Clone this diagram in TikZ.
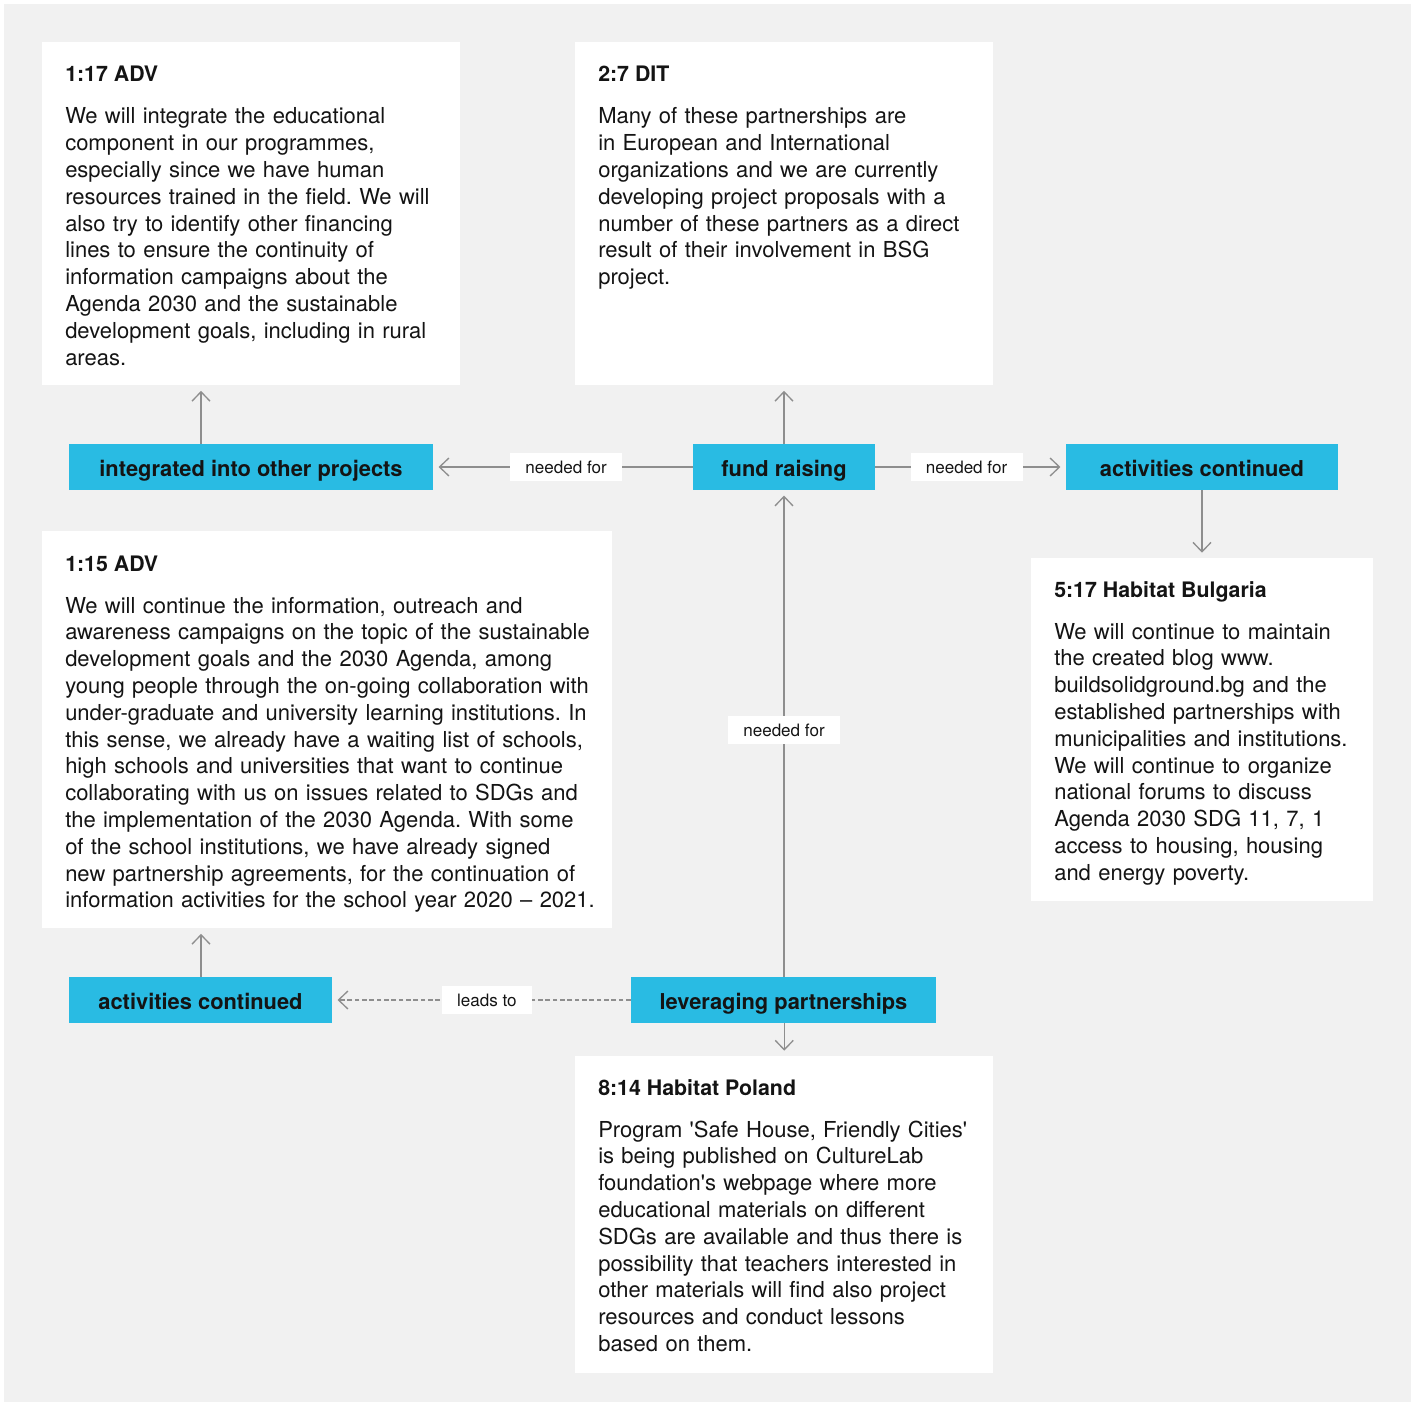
\documentclass[tikz,border=0pt]{standalone}
\usepackage{fontspec}
\setmainfont{TeX Gyre Heros}[Ligatures=TeXOff]
\usetikzlibrary{arrows.meta}
\definecolor{bggray}{HTML}{F1F1F1}
\definecolor{tagblue}{HTML}{29BBE3}
\definecolor{ink}{HTML}{141414}
\definecolor{linegray}{HTML}{8E8E8E}
\frenchspacing
\tikzset{
  card/.style={fill=white, draw=none, inner sep=0pt, anchor=north west},
  tag/.style={fill=tagblue, text=ink, font=\fontsize{16.4}{18}\selectfont\bfseries, minimum height=34.5pt, inner sep=0pt, anchor=center, text height=14.6pt, text depth=0pt},
  ttl/.style={anchor=base west, inner sep=0pt, text=ink, font=\fontsize{16}{18}\selectfont\bfseries},
  body/.style={anchor=base west, inner sep=0pt, text=ink, align=left, text width=480pt, font=\fontsize{16.5}{20.1}\selectfont},
  lbl/.style={fill=white, text=ink, font=\fontsize{12.8}{14}\selectfont, minimum width=84pt, minimum height=21pt, inner sep=0pt},
  arr/.style={draw=linegray, line width=1pt, -{Straight Barb[length=7pt,width=13.5pt]}, shorten >=4pt}
}
\begin{document}
\begin{tikzpicture}[x=0.75pt,y=-0.75pt]
\useasboundingbox (0,0) rectangle (1415,1402);
\fill[white] (0,0) rectangle (1415,1402);
\fill[bggray] (4,4) rectangle (1411,1402);

% cards
\node[card, minimum width=313.5pt, minimum height=257.25pt] (adv117) at (42,42) {};
\node[card, minimum width=313.5pt, minimum height=257.25pt] (dit) at (575,42) {};
\node[card, minimum width=427.5pt, minimum height=297.75pt] (adv115) at (42,531) {};
\node[card, minimum width=256.5pt, minimum height=257.25pt] (bg) at (1031,558) {};
\node[card, minimum width=313.5pt, minimum height=237.75pt] (pl) at (575,1056) {};

% card texts
\node[ttl] (t1) at (65,82) {1:17 ADV};
\node[body] (b1) at (65,124) {We will integrate the educational\\
component in our programmes,\\
especially since we have human\\
resources trained in the field. We will\\
also try to identify other financing\\
lines to ensure the continuity of\\
information campaigns about the\\
Agenda 2030 and the sustainable\\
development goals, including in rural\\
areas.};

\node[ttl] (t2) at (598,82) {2:7 DIT};
\node[body] (b2) at (598,124) {Many of these partnerships are\\
in European and International\\
organizations and we are currently\\
developing project proposals with a\\
number of these partners as a direct\\
result of their involvement in BSG\\
project.};

\node[ttl] (t3) at (65,571) {1:15 ADV};
\node[body] (b3) at (65,613) {We will continue the information, outreach and\\
awareness campaigns on the topic of the sustainable\\
development goals and the 2030 Agenda, among\\
young people through the on-going collaboration with\\
under-graduate and university learning institutions. In\\
this sense, we already have a waiting list of schools,\\
high schools and universities that want to continue\\
collaborating with us on issues related to SDGs and\\
the implementation of the 2030 Agenda. With some\\
of the school institutions, we have already signed\\
new partnership agreements, for the continuation of\\
information activities for the school year 2020 – 2021.};

\node[ttl] (t4) at (1054,597) {5:17 Habitat Bulgaria};
\node[body] (b4) at (1054,639) {We will continue to maintain\\
the created blog www.\\
buildsolidground.bg and the\\
established partnerships with\\
municipalities and institutions.\\
We will continue to organize\\
national forums to discuss\\
Agenda 2030 SDG 11, 7, 1\\
access to housing, housing\\
and energy poverty.};

\node[ttl] (t5) at (598,1095) {8:14 Habitat Poland};
\node[body] (b5) at (598,1137) {Program 'Safe House, Friendly Cities'\\
is being published on CultureLab\\
foundation's webpage where more\\
educational materials on different\\
SDGs are available and thus there is\\
possibility that teachers interested in\\
other materials will find also project\\
resources and conduct lessons\\
based on them.};

% blue tags
\node[tag, minimum width=273pt] (integ) at (251,467) {integrated into other projects};
\node[tag, minimum width=136.5pt] (fund) at (784,467) {fund raising};
\node[tag, minimum width=204pt] (actA) at (1202,467) {activities continued};
\node[tag, minimum width=197.25pt] (actB) at (200.5,1000) {activities continued};
\node[tag, minimum width=228.75pt] (lev) at (783.5,1000) {leveraging partnerships};

\coordinate (ax) at (201,0);

% connectors
\draw[arr] (integ.north -| ax) -- (adv117.south -| ax);
\draw[arr] (fund.north) -- (dit.south -| fund.north);
\draw[arr] (fund.west) -- node[lbl, pos=0.488] (l1) {needed for} (integ.east);
\draw[arr] (fund.east) -- node[lbl, pos=0.479] (l2) {needed for} (actA.west);
\draw[arr] (actA.south) -- (bg.north -| actA.south);
\draw[arr] (lev.north -| fund.south) -- node[lbl, pos=0.507] (l3) {needed for} (fund.south);
\draw[arr, dash pattern=on 3.5pt off 2pt] (lev.west) -- node[lbl, pos=0.482, minimum width=67.5pt] (l4) {leads to} (actB.east);
\draw[arr] (lev.south -| pl.north) -- (pl.north);
\draw[arr] (actB.north -| ax) -- (adv115.south -| ax);
\end{tikzpicture}
\end{document}
